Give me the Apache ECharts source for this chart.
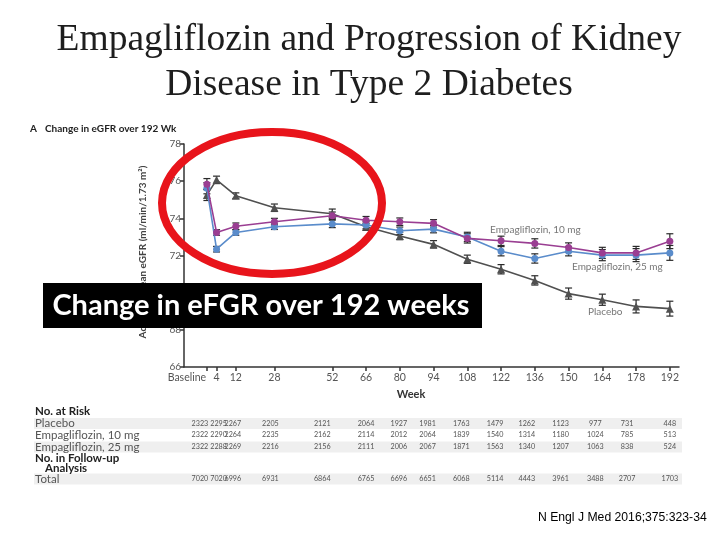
<!DOCTYPE html>
<html>
<head>
<meta charset="utf-8">
<script src="https://cdn.jsdelivr.net/npm/echarts@6/dist/echarts.min.js"></script>
<style>
html,body{margin:0;padding:0;background:#fff;}
#main{width:720px;height:540px;}
</style>
</head>
<body>
<div id="main"></div>
<script>
// ---- data ----
var weeks = [0, 4, 12, 28, 52, 66, 80, 94, 108, 122, 136, 150, 164, 178, 192];
var weekLabels = ['Baseline', '4', '12', '28', '52', '66', '80', '94', '108', '122', '136', '150', '164', '178', '192'];
var placebo = [75.26, 76.07, 75.22, 74.57, 74.25, 73.55, 73.05, 72.6, 71.8, 71.26, 70.66, 69.95, 69.62, 69.26, 69.14];
var empa10  = [75.84, 73.24, 73.57, 73.82, 74.14, 73.9, 73.82, 73.73, 72.92, 72.79, 72.65, 72.43, 72.14, 72.14, 72.77];
var empa25  = [75.62, 72.34, 73.24, 73.55, 73.7, 73.64, 73.33, 73.42, 73.0, 72.23, 71.84, 72.23, 72.02, 72.02, 72.14];
var placeboErr = [0.3, 0.2, 0.15, 0.2, 0.25, 0.2, 0.2, 0.2, 0.22, 0.25, 0.25, 0.3, 0.3, 0.35, 0.4];
var empa10Err  = [0.3, 0.15, 0.18, 0.18, 0.2, 0.2, 0.2, 0.2, 0.25, 0.25, 0.25, 0.25, 0.3, 0.35, 0.4];
var empa25Err  = [0.3, 0.15, 0.15, 0.15, 0.2, 0.2, 0.2, 0.2, 0.25, 0.25, 0.25, 0.25, 0.3, 0.35, 0.4];
var riskPlacebo = [2323, 2295, 2267, 2205, 2121, 2064, 1927, 1981, 1763, 1479, 1262, 1123, 977, 731, 448];
var riskEmpa10  = [2322, 2290, 2264, 2235, 2162, 2114, 2012, 2064, 1839, 1540, 1314, 1180, 1024, 785, 513];
var riskEmpa25  = [2322, 2288, 2269, 2216, 2156, 2111, 2006, 2067, 1871, 1563, 1340, 1207, 1063, 838, 524];
var totalFollow = [7020, 7020, 6996, 6931, 6864, 6765, 6696, 6651, 6068, 5114, 4443, 3961, 3488, 2707, 1703];

// ---- styling ----
var colPlacebo = '#505050', col10 = '#9a3e92', col25 = '#5a8ccb';
var colNudge = [-7, 2, -3, -4, -10, 0, -1, -6, -6, -6, -8, -8, -7, -9, 0];

function pairs(vals) { return weeks.map(function (w, i) { return [w, vals[i]]; }); }
function errPairs(vals, errs) { return weeks.map(function (w, i) { return [w, vals[i] - errs[i], vals[i] + errs[i]]; }); }

function errRender(params, api) {
  var x = api.value(0);
  var lo = api.coord([x, api.value(1)]);
  var hi = api.coord([x, api.value(2)]);
  var hw = 3.5;
  var st = { stroke: '#2a2a2a', lineWidth: 1.2 };
  return {
    type: 'group',
    children: [
      { type: 'line', shape: { x1: lo[0], y1: lo[1], x2: hi[0], y2: hi[1] }, style: st },
      { type: 'line', shape: { x1: lo[0] - hw, y1: lo[1], x2: lo[0] + hw, y2: lo[1] }, style: st },
      { type: 'line', shape: { x1: hi[0] - hw, y1: hi[1], x2: hi[0] + hw, y2: hi[1] }, style: st }
    ]
  };
}

var chart = echarts.init(document.getElementById('main'), null, { renderer: 'canvas' });
var option = {
  animation: false,
  backgroundColor: '#ffffff',
  grid: { left: 184, top: 144, width: 495, height: 223, containLabel: false },
  xAxis: {
    type: 'value', min: -9.5, max: 195.8,
    splitLine: { show: false },
    axisLine: { onZero: false, lineStyle: { color: '#333', width: 1.5 } },
    axisTick: { show: true, length: 4, customValues: weeks, lineStyle: { color: '#333', width: 1.5 } },
    axisLabel: {
      customValues: weeks, margin: 5, color: '#555', fontSize: 10.5, fontFamily: 'Lato',
      formatter: function (v) { var i = weeks.indexOf(v); return i === 0 ? '{b|' + weekLabels[0] + '}' : weekLabels[i]; },
      rich: { b: { padding: [0, 40, 0, 0], color: '#555', fontSize: 10.5, fontFamily: 'Lato' } }
    }
  },
  yAxis: {
    type: 'value', min: 66, max: 78, interval: 2,
    splitLine: { show: false },
    axisLine: { show: true, onZero: false, lineStyle: { color: '#333', width: 1.5 } },
    axisTick: { show: true, length: 4, lineStyle: { color: '#333', width: 1.5 } },
    axisLabel: { margin: 3, color: '#555', fontSize: 10, fontFamily: 'Lato' }
  },
  series: [
    { type: 'custom', renderItem: errRender, data: errPairs(placebo, placeboErr), z: 3, silent: true },
    { type: 'custom', renderItem: errRender, data: errPairs(empa25, empa25Err), z: 3, silent: true },
    { type: 'custom', renderItem: errRender, data: errPairs(empa10, empa10Err), z: 3, silent: true },
    { name: 'Placebo', type: 'line', data: pairs(placebo), symbol: 'triangle', symbolSize: 8,
      lineStyle: { color: colPlacebo, width: 1.6 }, itemStyle: { color: colPlacebo }, z: 4 },
    { name: 'Empagliflozin, 25 mg', type: 'line', data: pairs(empa25), symbol: 'circle', symbolSize: 7,
      lineStyle: { color: col25, width: 1.6 }, itemStyle: { color: col25 }, z: 5 },
    { name: 'Empagliflozin, 10 mg', type: 'line', data: pairs(empa10), symbol: 'circle', symbolSize: 7,
      lineStyle: { color: col10, width: 1.6 }, itemStyle: { color: col10 }, z: 6 }
  ]
};
chart.setOption(option);

// ---- annotations, table, overlays ----
var g = [];
function txt(x, y, s, o) {
  o = o || {};
  g.push({ type: 'text', x: x, y: y, z: o.z || 50, rotation: o.rotation || 0,
    style: { text: s, fill: o.fill || '#444', font: o.font || '10px Lato',
      textAlign: o.align || 'left', textVerticalAlign: 'middle' } });
}
// title
txt(369, 40, 'Empagliflozin and Progression of Kidney', { font: '37.5px "Liberation Serif"', fill: '#1e1e1e', align: 'center' });
txt(369, 85, 'Disease in Type 2 Diabetes', { font: '37.5px "Liberation Serif"', fill: '#1e1e1e', align: 'center' });
// panel label
txt(30, 129, 'A', { font: 'bold 10px Lato', fill: '#222' });
txt(45, 129, 'Change in eGFR over 192 Wk', { font: 'bold 10px Lato', fill: '#222' });
// y axis name
g.push({ type: 'text', x: 143, y: 252, rotation: Math.PI / 2, z: 40,
  style: { text: 'Adjusted Mean eGFR (ml/min/1.73 m²)', fill: '#444', font: 'bold 10px Lato', textAlign: 'center', textVerticalAlign: 'middle' } });
// x axis name
txt(411, 394, 'Week', { font: 'bold 11px Lato', fill: '#333', align: 'center' });
// series labels
txt(490, 230, 'Empagliflozin, 10 mg', { font: '10px Lato', fill: '#777' });
txt(572, 267, 'Empagliflozin, 25 mg', { font: '10px Lato', fill: '#777' });
txt(588, 312, 'Placebo', { font: '10px Lato', fill: '#777' });

// table bands
[423.5, 447, 479].forEach(function (cy) {
  g.push({ type: 'rect', z: 20, shape: { x: 34, y: cy - 5.5, width: 648, height: 11 }, style: { fill: '#efefef' } });
});
txt(35, 411.5, 'No. at Risk', { font: 'bold 11.5px Lato', fill: '#222' });
txt(35, 423.5, 'Placebo', { font: '11.5px Lato', fill: '#555' });
txt(35, 435, 'Empagliflozin, 10 mg', { font: '11.5px Lato', fill: '#555' });
txt(35, 447, 'Empagliflozin, 25 mg', { font: '11.5px Lato', fill: '#555' });
txt(35, 458, 'No. in Follow-up', { font: 'bold 11.5px Lato', fill: '#222' });
txt(45, 468.5, 'Analysis', { font: 'bold 11.5px Lato', fill: '#222' });
txt(35, 479, 'Total', { font: '11.5px Lato', fill: '#555' });
var rows = [[riskPlacebo, 423.5], [riskEmpa10, 435], [riskEmpa25, 447], [totalFollow, 479]];
weeks.forEach(function (w, i) {
  var px = chart.convertToPixel({ xAxisIndex: 0 }, w) + colNudge[i];
  rows.forEach(function (r) {
    txt(px, r[1], String(r[0][i]), { font: '7.2px Lato', fill: '#555', align: 'center' });
  });
});

// red ellipse
g.push({ type: 'ellipse', z: 90, shape: { cx: 272, cy: 203, rx: 110, ry: 71 }, style: { fill: 'none', stroke: '#e8141b', lineWidth: 8 } });
// black box
g.push({ type: 'rect', z: 95, shape: { x: 43, y: 283, width: 439, height: 45 }, style: { fill: '#000' } });
txt(261, 306, 'Change in eFGR over 192 weeks', { font: 'bold 29px Lato', fill: '#fff', align: 'center', z: 96 });
// footer
txt(538, 518, 'N Engl J Med 2016;375:323-34', { font: '12.2px "Liberation Sans"', fill: '#000' });

chart.setOption({ graphic: { elements: g } });
</script>
</body>
</html>
